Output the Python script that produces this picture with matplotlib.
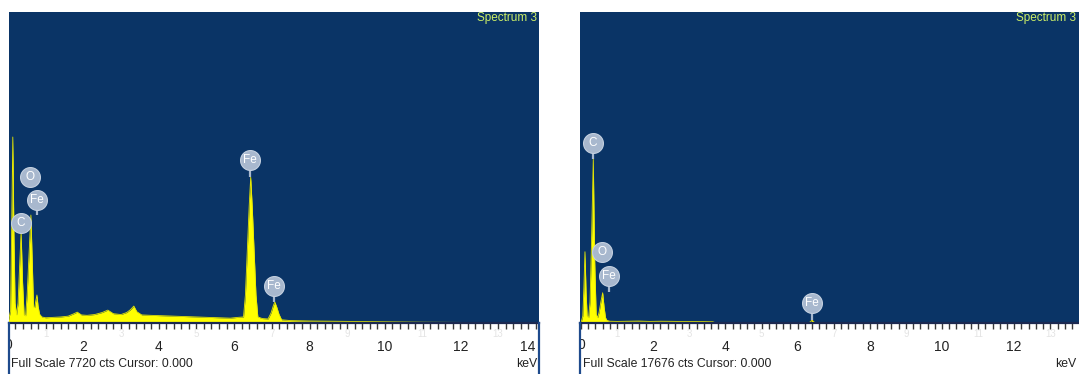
import matplotlib
matplotlib.use('Agg')
import matplotlib.pyplot as plt
from matplotlib.lines import Line2D
from matplotlib.transforms import Bbox, TransformedBbox, blended_transform_factory

# ---------------- data ----------------
left_kev = [0.00, 0.07, 0.10, 0.13, 0.16, 0.19, 0.23, 0.27, 0.31, 0.35, 0.39, 0.43, 0.47,
            0.51, 0.56, 0.61, 0.65, 0.68, 0.71, 0.74, 0.77, 0.80, 0.84, 0.90, 1.00, 1.20,
            1.40, 1.60, 1.75, 1.84, 1.95, 2.10, 2.30, 2.50, 2.65, 2.80, 3.00, 3.15, 3.25,
            3.34, 3.42, 3.55, 3.80, 4.10, 4.40, 4.70, 5.00, 5.30, 5.60, 5.90, 6.10, 6.25,
            6.30, 6.35, 6.40, 6.44, 6.48, 6.53, 6.58, 6.63, 6.75, 6.90, 6.98, 7.04, 7.08,
            7.13, 7.19, 7.26, 7.50, 8.00, 8.50, 9.00, 9.50, 10.00, 11.00, 12.00, 14.10]
left_cts = [0, 300, 2400, 4617, 2200, 500, 200, 500, 1400, 2259, 1000, 200, 180,
            700, 1700, 2680, 1400, 400, 380, 550, 695, 420, 220, 150, 130, 140,
            150, 170, 230, 270, 200, 190, 210, 260, 320, 230, 210, 260, 330,
            420, 280, 200, 190, 180, 170, 160, 150, 140, 130, 120, 140, 150,
            700, 1800, 2900, 3624, 2900, 1800, 700, 150, 110, 100, 250, 430, 521,
            400, 220, 80, 60, 50, 45, 40, 35, 30, 20, 15, 0]

right_kev = [0.00, 0.05, 0.08, 0.11, 0.14, 0.17, 0.21, 0.25, 0.29, 0.34, 0.38, 0.42, 0.46,
             0.50, 0.55, 0.60, 0.64, 0.68, 0.72, 0.80, 1.00, 1.30, 1.60, 1.90, 2.20, 2.50,
             2.80, 3.10, 3.40, 3.65, 3.75, 4.00, 6.30, 6.36, 6.40, 6.44, 6.50, 13.80]
right_cts = [0, 400, 2000, 4050, 1800, 400, 300, 1200, 4500, 9320, 3500, 500, 300,
             600, 1200, 1720, 900, 300, 150, 100, 90, 100, 110, 90, 100, 95,
             85, 90, 80, 70, 0, 0, 0, 80, 170, 80, 0, 0]

left_full_scale = 7720
right_full_scale = 17676

left_labels = ['C', 'O', 'Fe', 'Fe', 'Fe']
left_label_kev = [0.34, 0.59, 0.76, 6.42, 7.06]
left_label_cts = [2482, 3624, 3053, 4046, 918]
left_stem_to = [2259, 3624, 2680, 3624, 521]

right_labels = ['C', 'O', 'Fe', 'Fe']
right_label_kev = [0.32, 0.58, 0.78, 6.39]
right_label_cts = [10231, 4036, 2671, 1137]
right_stem_to = [9320, 4036, 1762, 170]

major_ticks = [0, 2, 4, 6, 8, 10, 12, 14]
odd_ticks = [1, 3, 5, 7, 9, 11, 13]

# ---------------- style ----------------
W, H = 1079, 374
BLUE = '#0A3466'
YEL = '#FFFF00'
BUB = '#A8B8CE'
plt.rcParams['font.family'] = ['Liberation Sans', 'DejaVu Sans']

fig = plt.figure(figsize=(W / 100, H / 100), dpi=100)
fig.patch.set_facecolor('white')

AX_TOP, AX_BOT = 12, 323

panels = [
    dict(x0=9, x1=539, zero=7.9, ppk=37.7, kev=left_kev, cts=left_cts, fs=left_full_scale,
         labels=left_labels, lk=left_label_kev, lc=left_label_cts, ls=left_stem_to,
         right_line=True),
    dict(x0=580, x1=1079, zero=581.0, ppk=36.1, kev=right_kev, cts=right_cts, fs=right_full_scale,
         labels=right_labels, lk=right_label_kev, lc=right_label_cts, ls=right_stem_to,
         right_line=False),
]

for p in panels:
    x0, x1 = p['x0'], p['x1']
    ax = fig.add_axes([x0 / W, 1 - AX_BOT / H, (x1 - x0) / W, (AX_BOT - AX_TOP) / H])
    ax.set_facecolor(BLUE)
    xmin = (x0 - p['zero']) / p['ppk']
    xmax = (x1 - p['zero']) / p['ppk']
    ax.set_xlim(xmin, xmax)
    ax.set_ylim(0, p['fs'])

    ax.fill_between(p['kev'], p['cts'], 0, color=YEL, lw=0, zorder=2)
    ax.plot(p['kev'], p['cts'], color='#E8E800', lw=0.6, zorder=2)

    # peak labels
    for name, k, c, s in zip(p['labels'], p['lk'], p['lc'], p['ls']):
        ax.plot([k, k], [s, c], color=BUB, lw=1.6, zorder=4, solid_capstyle='butt')
        ax.scatter([k], [c], s=205, color=BUB, edgecolor='#C4D0E0', linewidth=0.8, zorder=5)
        ax.text(k, c, name, color='white', fontsize=8.5, ha='center', va='center', zorder=6)

    for sp in ['top', 'left', 'right']:
        ax.spines[sp].set_visible(False)
    ax.spines['bottom'].set_color('#1B2850')
    ax.spines['bottom'].set_linewidth(1.6)
    ax.set_yticks([])

    ticks = [t for t in major_ticks if 0 < t <= xmax + 1e-9]
    ax.set_xticks(ticks)
    ax.set_xticklabels([str(t) for t in ticks])
    minors = [i * 0.2 for i in range(0, 71) if xmin <= i * 0.2 <= xmax]
    ax.set_xticks(minors, minor=True)
    ax.tick_params(axis='x', which='both', direction='out', length=4, width=1,
                   color='#3A3A3A', labelsize=10, pad=8, labelcolor='#222222')
    for tk in ax.xaxis.get_major_ticks():
        if tk.label1.get_text() == '14':
            tk.label1.set_horizontalalignment('right')
    fig.canvas.draw()
    for lab in ax.get_xticklabels():
        if lab.get_text() == '14':
            lab.set_horizontalalignment('right')

    bt = blended_transform_factory(ax.transData, ax.transAxes)
    # clipped "0" label at the left edge
    z = ax.text(0, -0.048, '0', transform=bt, ha='center', va='top', fontsize=10,
                color='#222222')
    z.set_clip_on(True)
    z.set_clip_box(TransformedBbox(Bbox([[(x0 + 1) / W, 0], [x1 / W, 1]]), fig.transFigure))
    # faint odd labels
    for t in odd_ticks:
        if xmin < t < xmax:
            ax.text(t, -0.035, str(t), transform=bt, ha='center', va='center',
                    fontsize=7, color='#E4E4E4')

    # vertical frame lines below the axis
    fig.add_artist(Line2D([x0 / W, x0 / W], [0, 1 - AX_BOT / H], color='#1E4A8C', lw=1.6))
    if p['right_line']:
        fig.add_artist(Line2D([x1 / W, x1 / W], [0, 1 - AX_BOT / H], color='#1E4A8C', lw=1.6))

# header / footer texts
fig.text(537 / W, 1 - 18 / H, 'Spectrum 3', ha='right', va='center', fontsize=8.5, color='#CCEE66')
fig.text(1076 / W, 1 - 18 / H, 'Spectrum 3', ha='right', va='center', fontsize=8.5, color='#CCEE66')
fig.text(11 / W, 1 - 364 / H, 'Full Scale 7720 cts Cursor: 0.000', ha='left', va='center',
         fontsize=8.8, color='#222222')
fig.text(537 / W, 1 - 364 / H, 'keV', ha='right', va='center', fontsize=8.8, color='#222222')
fig.text(583 / W, 1 - 364 / H, 'Full Scale 17676 cts Cursor: 0.000', ha='left', va='center',
         fontsize=8.8, color='#222222')
fig.text(1076 / W, 1 - 364 / H, 'keV', ha='right', va='center', fontsize=8.8, color='#222222')

fig.savefig('out.png', dpi=100, facecolor='white')
